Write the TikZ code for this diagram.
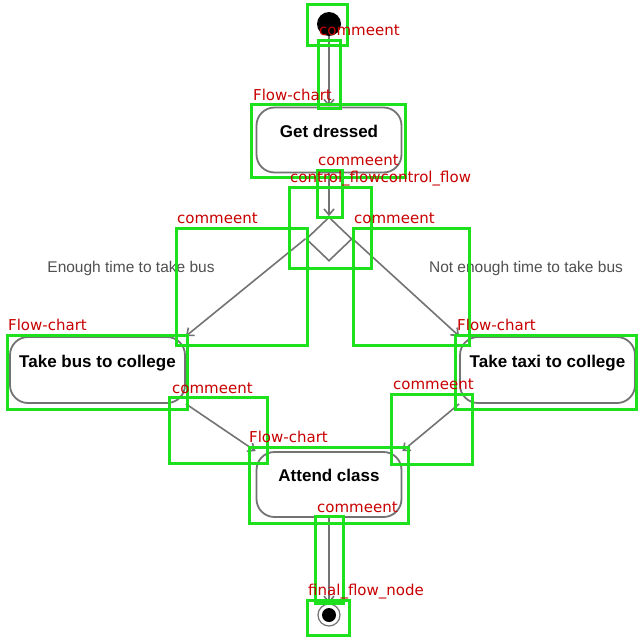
\documentclass[tikz,border=0pt]{standalone}
\usepackage{fontspec}
\setmainfont{Liberation Sans}
\newfontfamily\labfont{DejaVu Sans}
\usetikzlibrary{shapes.geometric,arrows.meta}
\definecolor{annotgreen}{RGB}{30,225,30}
\definecolor{lblred}{RGB}{200,0,0}
\definecolor{lngray}{RGB}{115,115,115}
\definecolor{txtgray}{RGB}{80,80,80}
\begin{document}
\begin{tikzpicture}[x=1pt,y=-1pt,
  act/.style={draw=lngray, line width=1.8pt, rounded corners=18pt, fill=white,
    minimum width=145pt, minimum height=65pt, inner sep=0pt,
    font=\bfseries\fontsize{17}{17}\selectfont, text height=12pt, text depth=18pt},
  wideact/.style={act, minimum width=175pt, minimum height=66pt},
  flow/.style={draw=lngray, line width=1.6pt, -{Straight Barb[length=6pt,width=10pt]}},
  guard/.style={text=txtgray, font=\fontsize{15.5}{15.5}\selectfont, inner sep=0pt},
  annot/.style={draw=annotgreen, line width=3pt},
  tag/.style={text=lblred, font=\labfont\fontsize{15}{15}\selectfont, anchor=base west, inner sep=0pt}]
\useasboundingbox (0,0) rectangle (640,640);
\fill[white] (0,0) rectangle (640,640);

% diagram nodes
\node[circle, fill=black, minimum size=24pt, inner sep=0pt] (init) at (329,24) {};
\node[act] (dressed) at (329,140) {Get dressed};
\node[diamond, draw=lngray, line width=1.6pt, fill=white, minimum width=46pt, minimum height=44pt, inner sep=0pt] (dec) at (329,239) {};
\node[wideact] (bus) at (97.5,370) {Take bus to college};
\node[wideact] (taxi) at (547.5,370) {Take taxi to college};
\node[act] (attend) at (329,484.5) {Attend class};
\node[circle, draw=lngray, line width=1.2pt, fill=white, minimum size=22pt, inner sep=0pt] (final) at (329,615) {};
\fill[black] (final.center) circle (7);

% guards
\node[guard] (enough) at (131,268) {Enough time to take bus};
\node[guard] (notenough) at (526,268) {Not enough time to take bus};

% flows
\draw[flow] (init.south) -- (dressed.north);
\draw[flow] (dressed.south) -- (dec.north);
\draw[flow] (dec.west) -- (bus.north east);
\draw[flow] (dec.east) -- (taxi.north west);
\draw[flow] (bus.south east) -- (attend.north west);
\draw[flow] (taxi.south west) -- (attend.north east);
\draw[flow] (attend.south) -- (final.north);

% annotation boxes
\draw[annot] (307,4) rectangle (347,45);
\draw[annot] (318,40) rectangle (340,108);
\draw[annot] (251,104) rectangle (405,177);
\draw[annot] (317,170) rectangle (342,217);
\draw[annot] (289,187) rectangle (371,268);
\draw[annot] (176,228) rectangle (307,345);
\draw[annot] (353,228) rectangle (469,345);
\draw[annot] (7,335) rectangle (187,409);
\draw[annot] (455,335) rectangle (636,409);
\draw[annot] (169,397) rectangle (267,463);
\draw[annot] (391,394) rectangle (472,464);
\draw[annot] (249,447) rectangle (408,523);
\draw[annot] (315,516) rectangle (343,603);
\draw[annot] (307,600) rectangle (349,635);

% annotation labels
\node[tag] (t1) at (319,35) {commeent};
\node[tag] (t2) at (253,100) {Flow-chart};
\node[tag] (t3) at (318,165) {commeent};
\node[tag] (t4) at (290,182) {control\_flowcontrol\_flow};
\node[tag] (t5) at (177,223) {commeent};
\node[tag] (t6) at (354,223) {commeent};
\node[tag] (t7) at (8,330) {Flow-chart};
\node[tag] (t8) at (457,330) {Flow-chart};
\node[tag] (t9) at (172,393) {commeent};
\node[tag] (t10) at (393,389) {commeent};
\node[tag] (t11) at (249,442) {Flow-chart};
\node[tag] (t12) at (317,512) {commeent};
\node[tag] (t13) at (308,595) {final\_flow\_node};
\end{tikzpicture}
\end{document}
